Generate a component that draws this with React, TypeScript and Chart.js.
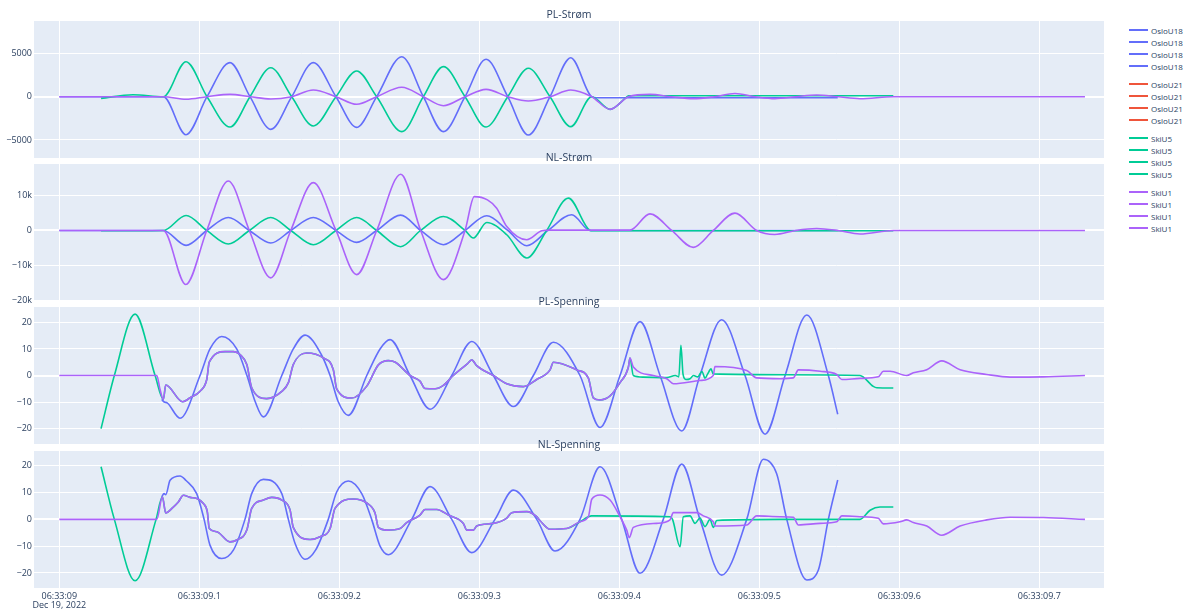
import React, { useEffect, useRef } from 'react';
import { Chart, registerables } from 'chart.js';

Chart.register(...registerables);

type Pt = [number, number];

// ---------- axis / category data (x = milliseconds after 06:33:09.000) ----------
const X_MIN = -18.1;
const X_MAX = 746.2;
const X_TICKS = [0, 100, 200, 300, 400, 500, 600, 700];
const X_TICK_LABELS = ['06:33:09', '06:33:09.1', '06:33:09.2', '06:33:09.3', '06:33:09.4', '06:33:09.5', '06:33:09.6', '06:33:09.7'];
const X_DATE_LABEL = 'Dec 19, 2022';

const SERIES_NAMES = ['OsloU18', 'OsloU21', 'SkiU5', 'SkiU1'];
const PANEL_TITLES = ['PL-Strøm', 'NL-Strøm', 'PL-Spenning', 'NL-Spenning'];

const Y_RANGES = [[-7080, 8740], [-20230, 19060], [-25.8, 25.8], [-25.6, 25.5]];
const Y_TICKS = [[-5000, 0, 5000], [-20000, -10000, 0, 10000], [-20, -10, 0, 10, 20], [-20, -10, 0, 10, 20]];
const Y_TICK_LABELS = [
  ['−5000', '0', '5000'],
  ['−20k', '−10k', '0', '10k'],
  ['−20', '−10', '0', '10', '20'],
  ['−20', '−10', '0', '10', '20'],
];

// ---------- series values ----------
// PL-Strøm
const plStromOsloU18: Pt[] = [[0,0],[74.3,0],[90.5,-4390],[105.5,0],[121.9,3930],[136.2,0],[151,-3770],[166,0],[181.4,3930],[197.6,0],[212.4,-3540],[226.7,0],[244.6,4620],[260,0],[274.3,-4040],[289.8,0],[304.8,4320],[320.3,0],[335,-4420],[350.5,0],[365.3,4500],[380.3,0],[384,-115],[556,-115]];
const plStromOsloU21: Pt[] = [];
const plStromSkiU5: Pt[] = [[29.8,-190],[52.6,230],[74.3,0],[90.5,4040],[105.5,0],[121.9,-3500],[136.2,0],[151,3350],[166,0],[181.4,-3380],[197.6,0],[212.4,2970],[226.7,0],[244.6,-4040],[260,0],[274.3,3470],[289.8,0],[304.8,-3500],[320.3,0],[335,3280],[350.5,0],[365.3,-3460],[380.3,0],[393.4,-1460],[404.5,-150],[406.5,115],[595.7,115]];
const plStromSkiU1: Pt[] = [[0,0],[74.3,0],[90.5,-300],[105.5,0],[121.9,270],[136.2,0],[151,-270],[166,0],[181.4,770],[197.6,0],[212.4,-880],[226.7,0],[244.6,1085],[260,0],[274.3,-1040],[289.8,0],[304.8,850],[320.3,0],[335,-500],[350.5,0],[365.3,770],[380.3,0],[393.4,-1460],[406.5,0],[421.9,270],[437,0],[452.9,-230],[468,0],[482.6,370],[497,0],[511.2,-230],[526,0],[541,200],[556,0],[571.9,-230],[595.7,0],[732.6,0]];

// NL-Strøm
const nlStromOsloU18: Pt[] = [[0,0],[74.3,0],[90.5,-4290],[105.3,0],[120.7,3710],[135.7,0],[151,-3610],[165.3,0],[181.4,3710],[197.6,0],[212.4,-3430],[226.7,0],[243.8,4400],[258.1,0],[274.3,-4090],[289.8,0],[305.3,4200],[320.3,0],[333.9,-4370],[349,0],[366,4490],[379.1,0],[556,0]];
const nlStromOsloU21: Pt[] = [];
const nlStromSkiU5: Pt[] = [[29.8,-100],[74.3,0],[90.5,4290],[105.3,0],[120.7,-3890],[135.7,0],[151,3710],[165.3,0],[181.4,-4090],[197.6,0],[212.4,3710],[226.7,0],[243.8,-4660],[258.1,0],[274.3,4000],[289.8,0],[295.7,-2180],[305.3,2290],[319.6,-1230],[333.9,-7890],[348.1,0],[363.6,9260],[379.1,0],[381,-100],[595.7,-100]];
const nlStromSkiU1: Pt[] = [[0,0],[74.3,0],[90.3,-15510],[105.3,0],[120.7,14200],[135.7,0],[151,-13600],[165.3,0],[181.4,13710],[197.6,0],[212.4,-12660],[226.7,0],[243.9,16110],[258.1,0],[274.3,-14090],[289.8,0],[296.4,9710],[305.8,8770],[312.4,6390],[319.6,1140],[333.9,-2660],[344.6,-90],[350,100],[407.6,100],[421.9,4770],[437.4,0],[452.9,-4860],[467.1,0],[482.6,4970],[498.1,0],[511,-1150],[526,0],[541,570],[556,0],[571.9,-1030],[595.7,0],[732.6,0]];

// PL-Spenning
const plSpenOsloU18: Pt[] = [[73.1,-9],[75,-10],[77,-10.3],[86.2,-16.1],[100.5,0],[107.6,10],[116,14.7],[126.7,10],[134,0],[140,-10],[145.7,-15.6],[158.9,0],[167.1,10],[175.5,15.2],[187,8],[193.4,0],[199.3,-10],[206.4,-15],[219.6,0],[229.1,10],[236.2,13.5],[250.5,0],[264.8,-12.7],[280.3,0],[294.6,12.8],[310,0],[324.3,-11.7],[338.6,0],[352.9,12.5],[371.9,0],[386.2,-19.6],[400.5,0],[414.8,20.3],[429.1,0],[444.6,-20.9],[457.6,0],[473.1,21],[489.8,0],[504.1,-22.1],[518.4,0],[533.9,22.8],[549.3,0],[556,-14.6]];
const plSpenOsloU21: Pt[] = [];
const plSpenSkiU1: Pt[] = [[0,0],[69.6,0],[71.9,-5.2],[74.3,-9],[76,-3.6],[88.1,-9.9],[93.4,-8.4],[100.5,-5.9],[105.3,-1.5],[107.1,5],[118.4,9],[124.3,9],[129.1,7.9],[133.9,4.1],[137.4,-4.6],[148.1,-8.7],[158.9,-6],[163.6,-2.7],[167.1,4.1],[176.7,8.5],[188.6,6.6],[195.7,2.2],[198.1,-5],[208.9,-8.5],[219.6,-4],[227.9,4],[235,5.6],[240,5],[250.5,0],[257.6,-2.1],[261.2,-4.9],[268.4,-5],[274.3,-3.7],[281.4,0],[291.4,4.4],[294.6,5.9],[298.1,3.7],[310,0],[319.6,-3.1],[331.4,-4.2],[341,-1.5],[350.5,2.1],[352.9,5],[369.6,2.1],[377.9,-1],[381.4,-8.4],[386.2,-9.2],[393.4,-7.7],[400.5,-2.7],[406.4,3],[407.6,6.6],[410,3.2],[424.3,0],[433.9,-1.2],[438.6,-3.1],[457.6,-1.9],[467.1,0],[468.3,3.4],[491,1.9],[498.1,-0.9],[514.8,-1.2],[524.3,-0.9],[527.9,2.1],[543.4,1.6],[555.3,0.4],[558.9,-1.5],[571.9,-1.1],[585,-0.5],[588.6,1.6],[593.4,1.6],[605.3,0],[610,1],[619.6,2.2],[630.3,5.5],[643.4,2.2],[662.4,0.4],[679.1,-0.6],[702.9,-0.5],[732.6,0]];
const plSpenSkiU5Start: Pt[] = [[29.8,-20],[39.3,0],[54.1,23.1],[68.4,0],[74.3,-9]];
const plSpenSkiU5End: Pt[] = [[407.6,6.6],[410,0],[417.1,-0.6],[434,-0.8],[440,0],[442.5,-0.5],[444,11.4],[445.5,0.5],[447.5,-1.5],[450.5,-1.2],[453,0],[456,-0.5],[459,1.5],[461.2,-1],[463,0.5],[465.5,2.5],[467,0.6],[520,0.3],[571.9,0],[581.4,-4.1],[583.9,-4.6],[595.7,-4.7]];

// NL-Spenning
const nlSpenOsloU18: Pt[] = [[73.1,8.4],[74.8,9.6],[76,9.2],[79.1,14.6],[86.2,16.2],[90.5,14.5],[98.1,9.6],[103.4,0],[107.6,-9.6],[116,-14.6],[124.3,-11.5],[132.6,0],[137.4,9.6],[145.7,14.9],[158.9,9.6],[163.6,0],[168.4,-9],[175.5,-14.9],[183,-11.5],[192.1,0],[198.1,10.2],[206.4,14.3],[216,9.6],[223.1,0],[229.1,-10],[235,-13.2],[251.7,0],[264.8,12.2],[280.3,0],[294.6,-12.4],[311.2,0],[324.3,10.9],[341,0],[354.1,-11.8],[371.9,0],[386.2,19.6],[401.7,0],[414.8,-20.1],[431.4,0],[444.6,20.6],[457.6,0],[473.1,-20.8],[491,0],[502.9,22.4],[512.4,17],[519.6,0],[533.9,-22.6],[542.1,-19],[549.3,0],[556,14.7]];
const nlSpenOsloU21: Pt[] = [];
const nlSpenSkiU1: Pt[] = [[0,0],[69.6,0],[73.6,8.4],[76,2.4],[81.4,4.6],[85,6.5],[88.6,9],[93.4,8.2],[98.1,7.8],[102.9,5.9],[105.7,2.8],[107.1,-3.4],[112.4,-4.6],[121.9,-8.4],[126.7,-7.7],[133.9,-4],[137.4,4.1],[145.7,7.2],[151.7,8.2],[158.9,7.2],[164.8,3.5],[167.1,-3],[179.1,-7.5],[186.2,-6.5],[193.4,-3.4],[196.9,4.1],[210,7.6],[219.6,6.1],[225.5,2.4],[227.9,-3],[233.9,-4],[243.4,-3.4],[248.1,-1.2],[257.6,1.6],[261.2,3.7],[269.6,3.7],[277.9,1.6],[288.6,-1.5],[291,-4],[295.7,-4],[298.1,-2.5],[310,-1.5],[319.6,0.5],[323.1,2.5],[333.9,2.9],[341,1],[343.4,-0.5],[350.5,-3.7],[362.4,-3.4],[371.9,-0.9],[377.9,1],[380.3,7.5],[386.2,9.1],[393.4,7.2],[400.5,1],[405.3,-4],[407.1,-6.8],[410,-3],[426.7,-1.5],[436.2,-0.2],[438.6,2.5],[455.3,2.5],[460,1.3],[467.1,-0.9],[468.3,-2.5],[491,-2.1],[498.1,1.3],[514.8,1],[524.3,0.8],[527.9,-2.1],[543.4,-1.5],[555.3,-0.9],[558.9,1.3],[571.9,1],[585,0.4],[588.6,-1.7],[600.5,-0.9],[605.3,-0.2],[610,-1.2],[619.6,-2.5],[630.3,-5.9],[643.4,-2.5],[662.4,-0.2],[679.1,0.8],[702.9,0.7],[732.6,0]];
const nlSpenSkiU5Start: Pt[] = [[29.8,19.6],[39.3,0],[54.1,-22.9],[69.1,0],[73.6,8.4]];
const nlSpenSkiU5End: Pt[] = [[380.3,1.3],[436.2,1],[438,0],[443.4,-10.2],[445.7,1],[450.5,1.3],[454.1,-1.5],[457.6,0.5],[461.2,-2.7],[464.8,0],[467.1,-3],[469.6,-0.4],[514.8,0],[571.9,0],[579.1,3.4],[586.2,4.6],[595.7,4.6]];

// Where SkiU5 voltage lies under SkiU1 it carries the same samples
const between = (pts: Pt[], a: number, b: number) => pts.filter(([t]) => t > a && t < b);
const plSpenSkiU5: Pt[] = [...plSpenSkiU5Start, ...between(plSpenSkiU1, 74.3, 407.6), ...plSpenSkiU5End];
const nlSpenSkiU5: Pt[] = [...nlSpenSkiU5Start, ...between(nlSpenSkiU1, 73.6, 380.3), ...nlSpenSkiU5End];

const PANEL_SERIES: Pt[][][] = [
  [plStromOsloU18, plStromOsloU21, plStromSkiU5, plStromSkiU1],
  [nlStromOsloU18, nlStromOsloU21, nlStromSkiU5, nlStromSkiU1],
  [plSpenOsloU18, plSpenOsloU21, plSpenSkiU5, plSpenSkiU1],
  [nlSpenOsloU18, nlSpenOsloU21, nlSpenSkiU5, nlSpenSkiU1],
];

// ---------- styling / layout ----------
const SERIES_COLORS = ['#636efa', '#EF553B', '#00cc96', '#ab63fa'];
const FONT = '"Open Sans", "DejaVu Sans", sans-serif';
const TEXT_COLOR = '#2a3f5f';
const PLOT_BG = '#E5ECF6';
const PLOT_LEFT = 34;
const PLOT_RIGHT = 1104;
const PANEL_TOPS = [21, 164, 307, 451];
const PANEL_HEIGHT = 137;
const PAD = 8;
const X_AXIS_H = 22;
const TITLE_Y = [14, 157, 301, 444];
const LEGEND_ROWS = [30, 42, 54, 66, 84, 96, 108, 120, 138, 150, 162, 174, 192, 204, 216, 228];

const plotBgPlugin = {
  id: 'plotBg',
  beforeDraw(chart: any) {
    const { ctx, chartArea: a } = chart;
    ctx.save();
    ctx.fillStyle = PLOT_BG;
    ctx.fillRect(a.left, a.top, a.right - a.left, a.bottom - a.top);
    ctx.restore();
  },
};

function Panel({ idx }: { idx: number }) {
  const ref = useRef<HTMLCanvasElement>(null);
  const last = idx === 3;
  const top = PANEL_TOPS[idx] - PAD;
  const height = PANEL_HEIGHT + PAD + (last ? X_AXIS_H : PAD);

  useEffect(() => {
    const series = PANEL_SERIES[idx];
    const chart = new Chart(ref.current as HTMLCanvasElement, {
      type: 'line',
      data: {
        datasets: series.map((pts, k) => ({
          label: SERIES_NAMES[k],
          data: pts.map(([x, y]) => ({ x, y })),
          borderColor: SERIES_COLORS[k],
          backgroundColor: SERIES_COLORS[k],
          borderWidth: 1.6,
          pointRadius: 0,
          pointHoverRadius: 0,
          fill: false,
          cubicInterpolationMode: 'monotone',
          order: 4 - k,
        })),
      },
      options: {
        responsive: false,
        animation: false,
        devicePixelRatio: 1,
        events: [],
        layout: { autoPadding: false, padding: { top: PAD, bottom: last ? 0 : PAD, left: 0, right: 0 } },
        plugins: { legend: { display: false }, tooltip: { enabled: false }, title: { display: false } },
        scales: {
          x: {
            type: 'linear',
            min: X_MIN,
            max: X_MAX,
            afterBuildTicks: (ax: any) => { ax.ticks = X_TICKS.map((v) => ({ value: v })); },
            afterFit: (ax: any) => { ax.height = last ? X_AXIS_H : 0; },
            grid: { color: '#ffffff', lineWidth: 1, drawTicks: false },
            border: { display: false },
            ticks: {
              display: last,
              autoSkip: false,
              maxRotation: 0,
              padding: 3,
              color: TEXT_COLOR,
              font: { family: FONT, size: 9, lineHeight: 1.1 },
              callback: (_v: any, i: number) => (i === 0 ? [X_TICK_LABELS[0], X_DATE_LABEL] : X_TICK_LABELS[i]),
            },
          },
          y: {
            type: 'linear',
            min: Y_RANGES[idx][0],
            max: Y_RANGES[idx][1],
            afterBuildTicks: (ax: any) => { ax.ticks = Y_TICKS[idx].map((v) => ({ value: v })); },
            afterFit: (ax: any) => { ax.width = PLOT_LEFT; },
            grid: {
              color: '#ffffff',
              lineWidth: (c: any) => (c.tick && c.tick.value === 0 ? 2 : 1),
              drawTicks: false,
            },
            border: { display: false },
            ticks: {
              padding: 2,
              color: TEXT_COLOR,
              font: { family: FONT, size: 9 },
              callback: (_v: any, i: number) => Y_TICK_LABELS[idx][i],
            },
          },
        },
      } as any,
      plugins: [plotBgPlugin],
    } as any);
    return () => chart.destroy();
  }, [idx]);

  return (
    <canvas
      ref={ref}
      width={PLOT_RIGHT}
      height={height}
      style={{ position: 'absolute', left: 0, top, width: PLOT_RIGHT, height }}
    />
  );
}

export default function App() {
  return (
    <div
      style={{
        position: 'fixed', left: 0, top: 0, width: 1183, height: 610,
        overflow: 'hidden', background: '#ffffff', fontFamily: FONT, color: TEXT_COLOR,
      }}
    >
      {[0, 1, 2, 3].map((i) => <Panel key={i} idx={i} />)}
      {PANEL_TITLES.map((t, i) => (
        <div
          key={t}
          style={{
            position: 'absolute', left: (PLOT_LEFT + PLOT_RIGHT) / 2, top: TITLE_Y[i],
            transform: 'translate(-50%, -50%)', fontSize: 10.5, lineHeight: '13px', whiteSpace: 'nowrap',
          }}
        >
          {t}
        </div>
      ))}
      {LEGEND_ROWS.map((y, r) => {
        const g = Math.floor(r / 4);
        return (
          <div
            key={r}
            style={{
              position: 'absolute', left: 1129, top: y - 6, height: 12,
              display: 'flex', alignItems: 'center', fontSize: 8, whiteSpace: 'nowrap',
            }}
          >
            <span style={{ display: 'inline-block', width: 19, height: 2, background: SERIES_COLORS[g], marginRight: 3 }} />
            <span>{SERIES_NAMES[g]}</span>
          </div>
        );
      })}
    </div>
  );
}
